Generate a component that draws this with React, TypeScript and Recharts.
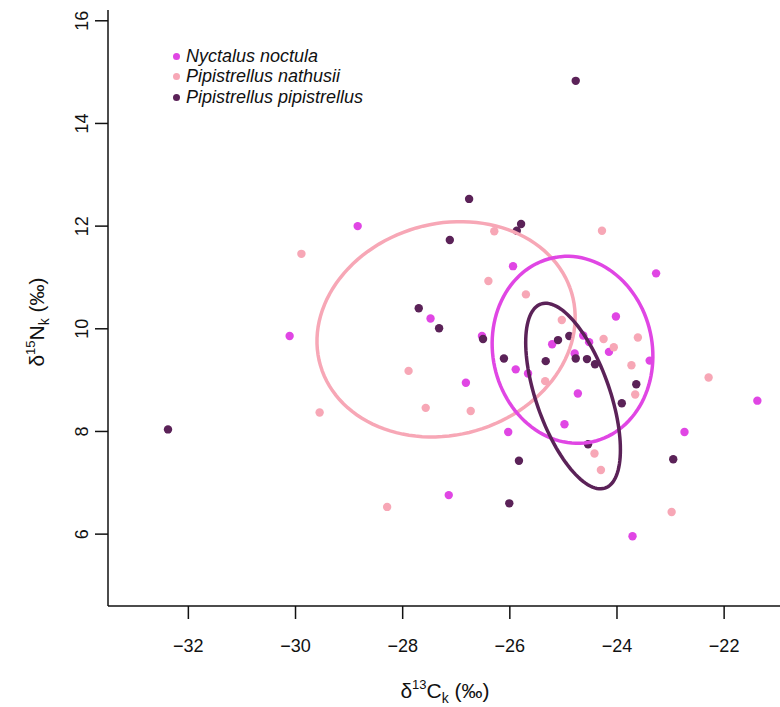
import React from 'react';
import { ScatterChart, Scatter, XAxis, YAxis, Legend } from 'recharts';

const xTicks = [-32, -30, -28, -26, -24, -22];
const yTicks = [6, 8, 10, 12, 14, 16];

const speciesNames = ['Nyctalus noctula', 'Pipistrellus nathusii', 'Pipistrellus pipistrellus'];
const speciesColors = ['#e046e4', '#f7a7b6', '#5b2258'];

// [d13C, d15N]
const noctulaPts = [
  [-28.84, 12.0], [-30.11, 9.86], [-27.48, 10.2], [-26.82, 8.95], [-27.14, 6.76],
  [-25.94, 11.22], [-23.27, 11.08], [-24.02, 10.24], [-26.52, 9.86], [-25.21, 9.7],
  [-24.63, 9.87], [-24.52, 9.74], [-24.79, 9.52], [-24.15, 9.55], [-23.39, 9.38],
  [-25.89, 9.21], [-25.66, 9.13], [-24.73, 8.74], [-21.38, 8.6], [-24.98, 8.14],
  [-26.03, 7.99], [-22.74, 7.99], [-23.71, 5.96],
];
const nathusiiPts = [
  [-29.89, 11.46], [-26.29, 11.9], [-24.28, 11.91], [-26.4, 10.93], [-25.7, 10.67],
  [-25.03, 10.17], [-24.25, 9.8], [-23.61, 9.83], [-24.06, 9.64], [-23.73, 9.29],
  [-25.34, 8.98], [-22.29, 9.05], [-23.66, 8.72], [-26.73, 8.4], [-27.89, 9.18],
  [-29.55, 8.37], [-27.57, 8.46], [-24.42, 7.57], [-24.3, 7.25], [-22.98, 6.43],
  [-28.29, 6.53],
];
const pipistrellusPts = [
  [-24.77, 14.83], [-32.38, 8.04], [-26.76, 12.53], [-25.79, 12.04], [-25.87, 11.91],
  [-27.12, 11.73], [-27.7, 10.4], [-27.32, 10.01], [-26.5, 9.8], [-26.11, 9.42],
  [-25.33, 9.37], [-25.1, 9.78], [-24.89, 9.86], [-24.77, 9.42], [-24.56, 9.41],
  [-24.41, 9.31], [-23.64, 8.92], [-23.91, 8.55], [-24.54, 7.75], [-25.83, 7.43],
  [-22.95, 7.46], [-26.01, 6.6],
];

// standard ellipses: centre x, centre y, semi-major, semi-minor, angle (deg)
const noctulaEllipse = [-24.83, 9.59, 1.83, 1.49, 99.4];
const nathusiiEllipse = [-27.19, 9.99, 2.45, 2.05, 19.3];
const pipistrellusEllipse = [-24.82, 8.69, 1.89, 0.69, 108.3];

const toPoints = (arr: number[][]) => arr.map(([x, y]) => ({ x, y }));

const outline = ([cx, cy, a, b, deg]: number[]) => {
  const th = (deg * Math.PI) / 180;
  const pts = [];
  for (let i = 0; i <= 120; i++) {
    const t = (2 * Math.PI * i) / 120;
    pts.push({
      x: cx + a * Math.cos(th) * Math.cos(t) - b * Math.sin(th) * Math.sin(t),
      y: cy + a * Math.sin(th) * Math.cos(t) + b * Math.cos(th) * Math.sin(t),
    });
  }
  return pts;
};

const FONT = '"Liberation Sans", Arial, Helvetica, sans-serif';

const fmt = (v: number) => String(v).replace('-', '\u2212');

const XTick = (props: any) => {
  const { x, payload } = props;
  return (
    <text x={x} y={652} textAnchor="middle" fontSize={18} fontFamily={FONT} fill="#111">
      {fmt(payload.value)}
    </text>
  );
};

const YTick = (props: any) => {
  const { y, payload } = props;
  return (
    <text
      x={88}
      y={y}
      textAnchor="middle"
      fontSize={18}
      fontFamily={FONT}
      fill="#111"
      transform={`rotate(-90, 88, ${y})`}
    >
      {payload.value}
    </text>
  );
};

const dot = (color: string) => (props: any) => (
  <circle cx={props.cx} cy={props.cy} r={4.2} fill={color} />
);

const noShape = () => <g />;

const LegendBox = () => (
  <div style={{ fontFamily: FONT }}>
    {speciesNames.map((name, i) => (
      <div key={name} style={{ display: 'flex', alignItems: 'center', height: 20.5 }}>
        <span
          style={{
            width: 7,
            height: 7,
            borderRadius: '50%',
            background: speciesColors[i],
            marginRight: 6,
            display: 'inline-block',
          }}
        />
        <span style={{ fontStyle: 'italic', fontSize: 18, color: '#111', whiteSpace: 'nowrap' }}>
          {name}
        </span>
      </div>
    ))}
  </div>
);

export default function App() {
  return (
    <div
      style={{
        position: 'absolute',
        left: 0,
        top: 0,
        width: 780,
        height: 707,
        overflow: 'hidden',
        background: '#fff',
      }}
    >
      <ScatterChart width={782} height={707} margin={{ top: 10, right: 0, left: 0, bottom: 0 }}>
        <XAxis
          type="number"
          dataKey="x"
          domain={[-33.5, -20.92]}
          allowDataOverflow
          ticks={xTicks}
          tickSize={13}
          height={101}
          tick={<XTick />}
          axisLine={{ stroke: '#111', strokeWidth: 1.5 }}
          tickLine={{ stroke: '#111', strokeWidth: 1.5 }}
        />
        <YAxis
          type="number"
          dataKey="y"
          domain={[4.6, 16.21]}
          allowDataOverflow
          ticks={yTicks}
          tickSize={13}
          width={108}
          tick={<YTick />}
          axisLine={{ stroke: '#111', strokeWidth: 1.5 }}
          tickLine={{ stroke: '#111', strokeWidth: 1.5 }}
        />
        <Legend
          verticalAlign="middle"
          align="center"
          layout="vertical"
          wrapperStyle={{ top: 46, left: 173, width: 'auto' }}
          content={<LegendBox />}
        />
        <Scatter name={speciesNames[0]} data={toPoints(noctulaPts)} fill={speciesColors[0]} shape={dot(speciesColors[0])} isAnimationActive={false} />
        <Scatter name={speciesNames[1]} data={toPoints(nathusiiPts)} fill={speciesColors[1]} shape={dot(speciesColors[1])} isAnimationActive={false} />
        <Scatter name={speciesNames[2]} data={toPoints(pipistrellusPts)} fill={speciesColors[2]} shape={dot(speciesColors[2])} isAnimationActive={false} />
        <Scatter
          data={outline(nathusiiEllipse)}
          shape={noShape}
          line={{ stroke: speciesColors[1], strokeWidth: 3.5, fill: 'none' }}
          legendType="none"
          isAnimationActive={false}
        />
        <Scatter
          data={outline(noctulaEllipse)}
          shape={noShape}
          line={{ stroke: speciesColors[0], strokeWidth: 3.5, fill: 'none' }}
          legendType="none"
          isAnimationActive={false}
        />
        <Scatter
          data={outline(pipistrellusEllipse)}
          shape={noShape}
          line={{ stroke: speciesColors[2], strokeWidth: 3.5, fill: 'none' }}
          legendType="none"
          isAnimationActive={false}
        />
      </ScatterChart>
      <svg
        width={780}
        height={707}
        style={{ position: 'absolute', left: 0, top: 0, pointerEvents: 'none' }}
      >
        <text x={445} y={698} textAnchor="middle" fontSize={21} fontFamily={FONT} fill="#111">
          δ<tspan fontSize={13} dy={-9}>13</tspan>
          <tspan dy={9}>C</tspan>
          <tspan fontSize={14} dy={5}>k</tspan>
          <tspan dy={-5}> (‰)</tspan>
        </text>
        <text
          x={44}
          y={322}
          textAnchor="middle"
          fontSize={21}
          fontFamily={FONT}
          fill="#111"
          transform="rotate(-90, 44, 322)"
        >
          δ<tspan fontSize={13} dy={-9}>15</tspan>
          <tspan dy={9}>N</tspan>
          <tspan fontSize={14} dy={5}>k</tspan>
          <tspan dy={-5}> (‰)</tspan>
        </text>
      </svg>
    </div>
  );
}
